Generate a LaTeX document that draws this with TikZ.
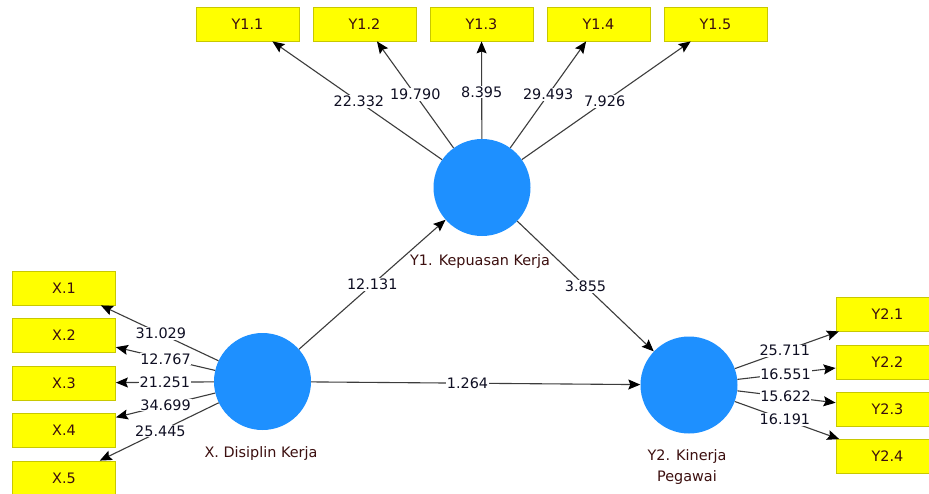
\documentclass[tikz,border=0pt]{standalone}
\usepackage{fontspec}
\setmainfont{DejaVu Sans}
\usetikzlibrary{arrows.meta}
\definecolor{boxfill}{RGB}{255,255,0}
\definecolor{boxline}{RGB}{200,200,0}
\definecolor{lvfill}{RGB}{30,144,255}
\definecolor{edgecol}{RGB}{60,60,60}
\definecolor{boxtext}{RGB}{60,15,15}
\definecolor{numtext}{RGB}{15,15,35}
\begin{document}
\begin{tikzpicture}[x=1pt,y=-1pt,
  every node/.style={font=\fontsize{14.4}{17}\selectfont},
  ind/.style={draw=boxline, fill=boxfill, minimum width=103pt, minimum height=34pt, inner sep=0pt, text=boxtext, line width=0.8pt},
  lv/.style={circle, fill=lvfill, minimum size=97pt, inner sep=0pt},
  lvname/.style={text=boxtext, align=center, font=\fontsize{14.4}{21}\selectfont},
  conn/.style={draw=edgecol, line width=1.1pt, -{Stealth[length=12pt,width=10pt,inset=2pt,color=black]}},
  num/.style={fill=white, inner sep=0.8pt, text=numtext}]
\useasboundingbox (0,0) rectangle (929,493);
\fill[white] (0,0) rectangle (929,493);

% latent variables
\node[lv] (Y1) at (482,187.5) {};
\node[lv] (X) at (262.5,381.5) {};
\node[lv] (Y2) at (689,385) {};
\node[lvname] (Y1n) at (480,262) {Y1. Kepuasan Kerja};
\node[lvname] (Xn) at (261,454) {X. Disiplin Kerja};
\node[lvname] (Y2n) at (687,467.5) {Y2. Kinerja\\Pegawai};

% indicators Y1
\node[ind] (Y11) at (247.5,24) {Y1.1};
\node[ind] (Y12) at (364.5,24) {Y1.2};
\node[ind] (Y13) at (481.5,24) {Y1.3};
\node[ind] (Y14) at (598.5,24) {Y1.4};
\node[ind] (Y15) at (715.5,24) {Y1.5};

% indicators X
\node[ind] (X1) at (64,288) {X.1};
\node[ind] (X2) at (64,335) {X.2};
\node[ind] (X3) at (64,383) {X.3};
\node[ind] (X4) at (64,430) {X.4};
\node[ind] (X5) at (64,478) {X.5};

% indicators Y2
\node[ind] (Y21) at (887.5,314) {Y2.1};
\node[ind] (Y22) at (887.5,362) {Y2.2};
\node[ind] (Y23) at (887.5,409) {Y2.3};
\node[ind] (Y24) at (887.5,456.5) {Y2.4};

% outer model Y1
\draw[conn] (Y1) -- node[num,pos=0.49]{22.332} (Y11);
\draw[conn] (Y1) -- node[num,pos=0.50]{19.790} (Y12);
\draw[conn] (Y1) -- node[num,pos=0.48]{8.395} (Y13);
\draw[conn] (Y1) -- node[num,pos=0.50]{29.493} (Y14);
\draw[conn] (Y1) -- node[num,pos=0.49]{7.926} (Y15);

% outer model X
\draw[conn] (X) -- node[num,pos=0.49]{31.029} (X1);
\draw[conn] (X) -- node[num,pos=0.50]{12.767} (X2);
\draw[conn] (X) -- node[num,pos=0.50]{21.251} (X3);
\draw[conn] (X) -- node[num,pos=0.50]{34.699} (X4);
\draw[conn] (X) -- node[num,pos=0.49]{25.445} (X5);

% outer model Y2
\draw[conn] (Y2) -- node[num,pos=0.48]{25.711} (Y21);
\draw[conn] (Y2) -- node[num,pos=0.49]{16.551} (Y22);
\draw[conn] (Y2) -- node[num,pos=0.49]{15.622} (Y23);
\draw[conn] (Y2) -- node[num,pos=0.48]{16.191} (Y24);

% inner model
\draw[conn] (X) -- node[num]{12.131} (Y1);
\draw[conn] (Y1) -- node[num]{3.855} (Y2);
\draw[conn] (X) -- node[num,pos=0.475]{1.264} (Y2);
\end{tikzpicture}
\end{document}
